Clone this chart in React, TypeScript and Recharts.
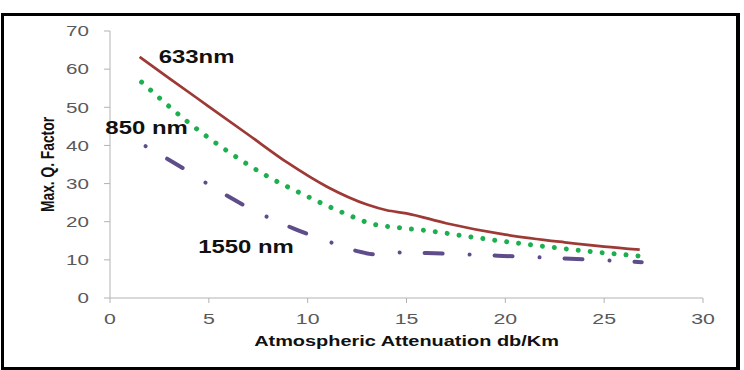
import React from 'react';
import { LineChart, Line, XAxis, YAxis, ReferenceDot } from 'recharts';

// Atmospheric attenuation (dB/km) vs. maximum Q factor, one curve per wavelength
const redAtten = [1.5, 3, 5, 7, 9, 11, 13, 14, 15, 17, 20, 23, 25, 26.8];
const redQ = [63.2, 57.6, 50.2, 42.8, 35.4, 29.1, 24.5, 23, 22.2, 19.6, 16.6, 14.6, 13.5, 12.7];

const greenAtten = [1.6, 4, 6, 8, 10, 12, 13.2, 14.5, 16, 18.4, 20.3, 24.1, 26.8];
const greenQ = [56.6, 45.9, 38.3, 31.8, 26.6, 21.9, 19.5, 18.5, 17.7, 15.9, 14.6, 12.3, 11];

const purpleAtten = [1.8, 3.7, 5.5, 7.3, 9.3, 11.5, 12.5, 13.7, 14.9, 16, 19.6, 23.3, 26.9];
const purpleQ = [39.8, 34, 28.1, 22.9, 18.2, 14, 12.3, 11.3, 12, 11.8, 11.1, 10.3, 9.4];

const xTicks = [0, 5, 10, 15, 20, 25, 30];
const yTicks = [0, 10, 20, 30, 40, 50, 60, 70];

const annotationText = ['633nm', '850 nm', '1550 nm'];
const annotationAtten = [4.38, 1.85, 6.88];
const annotationQ = [61.6, 43.0, 11.8];

const toPoints = (xs: number[], qs: number[]) => xs.map((x, i) => ({ x, q: qs[i] }));

const FONT = '"Liberation Sans", Arial, sans-serif';
const STRETCH = 1.33;

const YTick = (props: any) => {
  const { x, y, payload } = props;
  return (
    <g transform={`translate(${x},${y})`}>
      <text
        transform="scale(1.42,1)"
        textAnchor="end"
        dy="0.36em"
        fontSize={14.5}
        fontFamily={FONT}
        fill="#595959"
      >
        {payload.value}
      </text>
    </g>
  );
};

const XTick = (props: any) => {
  const { x, y, payload } = props;
  return (
    <g transform={`translate(${x},${y})`}>
      <text
        transform="scale(1.42,1)"
        textAnchor="middle"
        dy="0.71em"
        fontSize={15}
        fontFamily={FONT}
        fill="#595959"
      >
        {payload.value}
      </text>
    </g>
  );
};

const makeAnnotation = (label: string) => (p: any) => (
  <g transform={`translate(${p.cx},${p.cy})`}>
    <text
      transform={`scale(${STRETCH},1)`}
      textAnchor="middle"
      fontSize={18}
      fontWeight="bold"
      fontFamily={FONT}
      fill="#111"
    >
      {label}
    </text>
  </g>
);

const XTitle = (props: any) => {
  const { viewBox } = props;
  const cx = viewBox.x + viewBox.width / 2;
  return (
    <g transform={`translate(${cx},346)`}>
      <text
        transform={`scale(${STRETCH},1)`}
        textAnchor="middle"
        fontSize={15}
        fontWeight="bold"
        fontFamily={FONT}
        fill="#111"
      >
        Atmospheric Attenuation db/Km
      </text>
    </g>
  );
};

const YTitle = (props: any) => {
  const { viewBox } = props;
  const cy = viewBox.y + viewBox.height / 2;
  return (
    <g transform={`translate(47,${cy}) scale(${STRETCH},1) rotate(-90)`}>
      <text
        textAnchor="middle"
        dy="0.36em"
        fontSize={13.8}
        fontWeight="bold"
        fontFamily={FONT}
        fill="#111"
      >
        Max. Q. Factor
      </text>
    </g>
  );
};

export default function App() {
  return (
    <div style={{ position: 'absolute', left: 0, top: 0, width: 744, height: 370, background: '#fff' }}>
      <div
        style={{
          position: 'absolute',
          left: 1,
          top: 13,
          width: 739,
          height: 357,
          boxSizing: 'border-box',
          borderStyle: 'solid',
          borderColor: '#000',
          borderWidth: '3px 4px 3px 3px',
        }}
      />
      <div style={{ position: 'absolute', left: 0, top: 0 }}>
        <LineChart width={744} height={370} margin={{ top: 31, right: 41, bottom: 42, left: 50 }}>
          <XAxis
            type="number"
            dataKey="x"
            domain={[0, 30]}
            ticks={xTicks}
            allowDataOverflow
            stroke="#B3B3B3"
            tickSize={5}
            tickMargin={10}
            height={30}
            tick={<XTick />}
            label={<XTitle />}
          />
          <YAxis
            type="number"
            dataKey="q"
            domain={[0, 70]}
            ticks={yTicks}
            allowDataOverflow
            stroke="#B3B3B3"
            tickSize={6}
            tickMargin={15}
            width={60}
            tick={<YTick />}
            label={<YTitle />}
          />
          <Line
            data={toPoints(redAtten, redQ)}
            dataKey="q"
            type="monotone"
            stroke="#9E3A36"
            strokeWidth={2.75}
            dot={false}
            isAnimationActive={false}
          />
          <Line
            data={toPoints(greenAtten, greenQ)}
            dataKey="q"
            type="monotone"
            stroke="#1DAF4F"
            strokeWidth={5}
            strokeLinecap="round"
            strokeDasharray="0.01 12"
            dot={false}
            isAnimationActive={false}
          />
          <Line
            data={toPoints(purpleAtten, purpleQ)}
            dataKey="q"
            type="monotone"
            stroke="#5E4D8A"
            strokeWidth={4}
            strokeLinecap="round"
            strokeDasharray="0.01 25 18 27"
            dot={false}
            isAnimationActive={false}
          />
          {annotationText.map((t, i) => (
            <ReferenceDot
              key={t}
              x={annotationAtten[i]}
              y={annotationQ[i]}
              r={0}
              shape={makeAnnotation(t)}
            />
          ))}
        </LineChart>
      </div>
    </div>
  );
}
